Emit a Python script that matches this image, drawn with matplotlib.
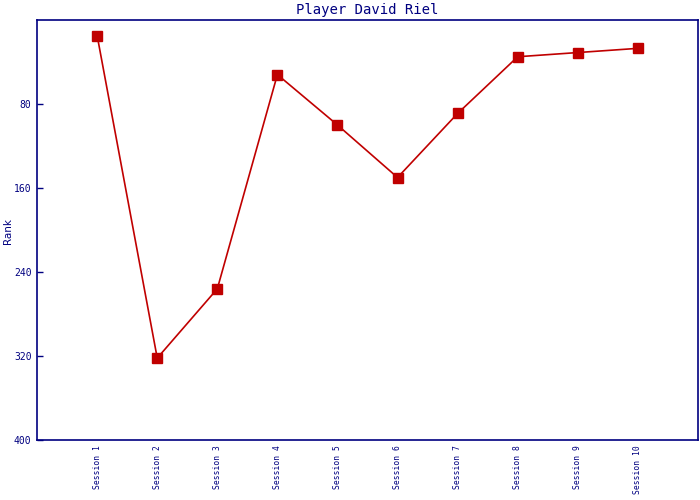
import matplotlib
matplotlib.use("Agg")
import matplotlib.pyplot as plt

# DADOS
sessoes = ["Session 1", "Session 2", "Session 3", "Session 4", "Session 5",
           "Session 6", "Session 7", "Session 8", "Session 9", "Session 10"]
rank = [15, 322, 256, 52, 100, 150, 89, 35, 31, 27]

azul = "#000080"
vermelho = "#C00000"

fig = plt.figure(figsize=(7, 5), dpi=100)
ax = fig.add_axes([0.053, 0.12, 0.944, 0.84])

x = list(range(1, len(sessoes) + 1))
ax.plot(x, rank, color=vermelho, linewidth=1.2, marker="s", markersize=7,
        markerfacecolor=vermelho, markeredgecolor=vermelho)

ax.set_xlim(0, len(sessoes) + 1)
ax.set_ylim(400, 0)
ax.set_yticks([80, 160, 240, 320, 400])
ax.set_xticks(x)
ax.set_xticklabels(sessoes, rotation=90, fontsize=5.8, family="DejaVu Sans Mono", color=azul)
for lbl in ax.get_yticklabels():
    lbl.set_family("DejaVu Sans Mono")
    lbl.set_fontsize(7)
    lbl.set_color(azul)

ax.tick_params(axis="y", direction="in", length=4, color=azul, width=1, pad=4)
ax.tick_params(axis="x", length=0, pad=3.5)

for s in ax.spines.values():
    s.set_color(azul)
    s.set_linewidth(1.2)

# rótulo do eixo y posicionado à mão
fig.text(0.012, 1 - 231 / 500, "Rank", rotation=90, ha="center", va="center",
         fontsize=7.5, color=azul)
ax.set_title("Player David Riel", fontsize=10, family="DejaVu Sans Mono", color=azul, pad=4)

plt.savefig("out.png", dpi=100)
plt.close()
